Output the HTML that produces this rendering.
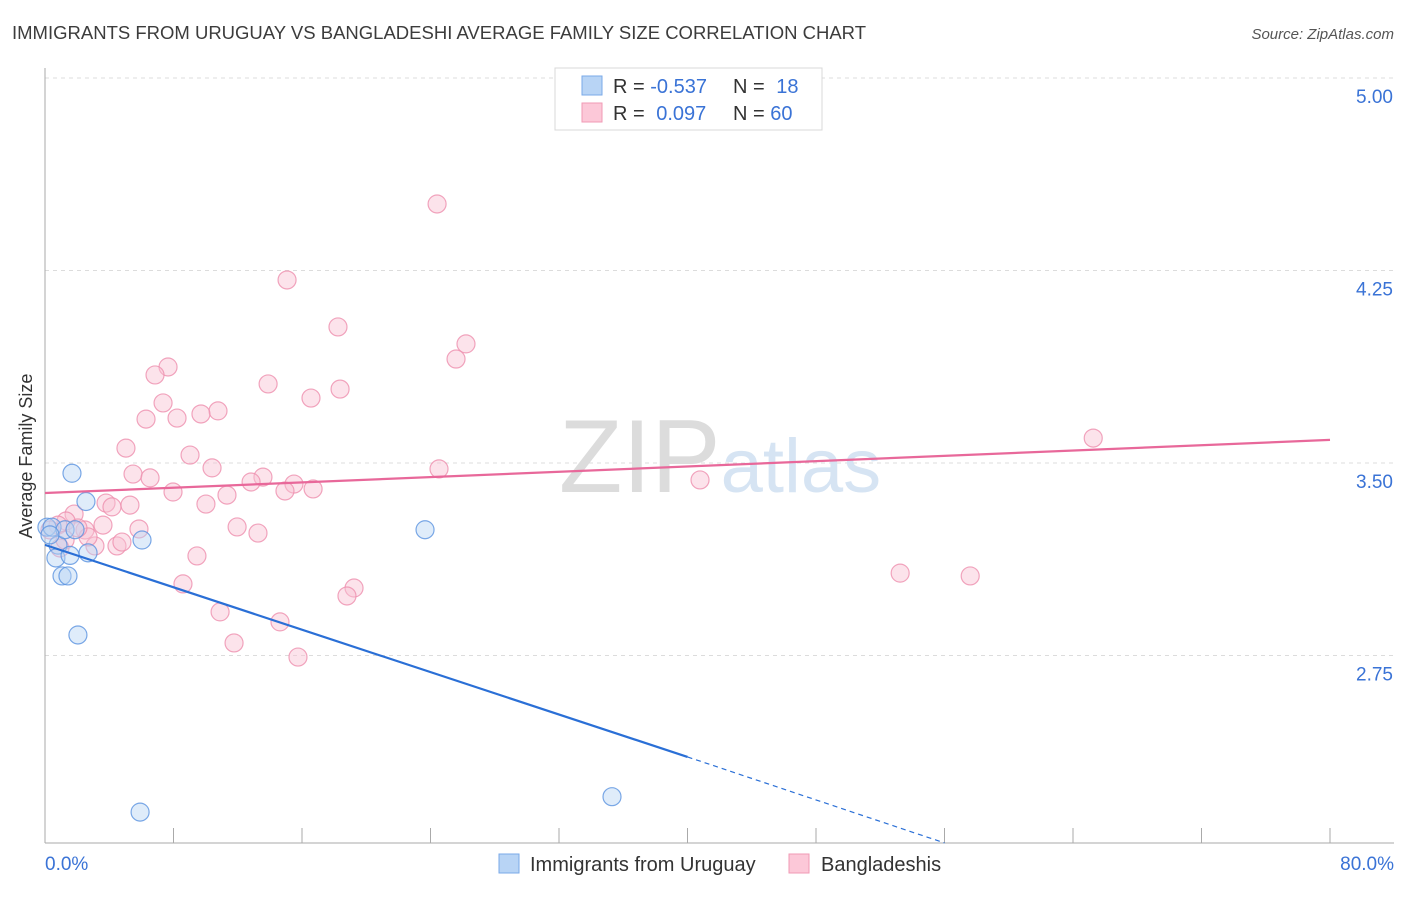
<!DOCTYPE html>
<html><head><meta charset="utf-8"><style>
body{margin:0;background:#fff;font-family:"Liberation Sans",sans-serif;}
svg text{font-family:"Liberation Sans",sans-serif;}
</style></head><body>
<svg id="chart" width="1406" height="892">
<text x="12" y="39" font-size="18" fill="#3c3c3c" textLength="854" lengthAdjust="spacingAndGlyphs">IMMIGRANTS FROM URUGUAY VS BANGLADESHI AVERAGE FAMILY SIZE CORRELATION CHART</text>
<text x="1394" y="39" font-size="15" fill="#555" font-style="italic" text-anchor="end">Source: ZipAtlas.com</text>
<text x="32" y="456" font-size="18" fill="#333" text-anchor="middle" transform="rotate(-90 32 456)">Average Family Size</text>
<g id="grid"></g>
<text x="720" y="492" font-size="104" fill="#e4e4e4" text-anchor="middle" font-family="Liberation Serif"><tspan fill="#dcdcdc">ZIP</tspan><tspan fill="#d6e4f3" font-family="Liberation Sans" font-size="76">atlas</tspan></text>
<g id="marks"></g>
<g>
<rect x="555" y="68" width="267" height="62" fill="#fff" stroke="#d8d8d8"/>
<rect x="582" y="76" width="20" height="19" fill="#b8d4f5" stroke="#7aaae8"/>
<rect x="582" y="103" width="20" height="19" fill="#fcc8d8" stroke="#f09ab5"/>
<text x="613" y="93" font-size="20" fill="#333">R = <tspan fill="#3a73d6">-0.537</tspan></text>
<text x="733" y="93" font-size="20" fill="#333">N = <tspan fill="#3a73d6" dx="6">18</tspan></text>
<text x="613" y="120" font-size="20" fill="#333">R = <tspan fill="#3a73d6" dx="6">0.097</tspan></text>
<text x="733" y="120" font-size="20" fill="#333">N = <tspan fill="#3a73d6">60</tspan></text>
</g>
<g>
<rect x="499" y="854" width="20" height="19" fill="#b8d4f5" stroke="#7aaae8"/>
<text x="530" y="871" font-size="20" fill="#333">Immigrants from Uruguay</text>
<rect x="789" y="854" width="20" height="19" fill="#fcc8d8" stroke="#f09ab5"/>
<text x="821" y="871" font-size="20" fill="#333">Bangladeshis</text>
</g>
</svg>
<script>
const yTicks=[2.75,3.5,4.25,5.0];
const yTickLabels=["2.75","3.50","4.25","5.00"];
const xTickLabels=["0.0%","80.0%"];
const blueX=[0.12,0.44,0.81,0.68,1.06,1.43,2.05,1.68,2.55,1.56,2.68,1.25,6.04,5.92,23.66,35.3,0.31,1.87];
const blueY=[3.25,3.25,3.18,3.13,3.06,3.06,2.83,3.46,3.35,3.14,3.15,3.24,3.20,2.14,3.24,2.20,3.22,3.24];
const pinkX=[24.41,15.07,18.24,26.21,25.59,7.66,6.85,13.89,18.37,16.56,7.35,10.77,9.71,6.29,8.22,5.04,9.03,10.40,5.48,6.54,24.53,40.78,65.26,13.57,12.83,15.50,16.69,7.97,14.94,11.33,10.02,3.80,4.17,1.81,1.31,3.61,5.85,11.96,13.26,2.49,3.11,4.48,4.79,2.68,0.93,9.46,8.59,19.24,18.80,10.90,14.63,11.77,15.75,53.24,57.60,2.05,0.81,0.31,5.29,1.25];
const pinkY=[4.509,4.213,4.03,3.964,3.905,3.874,3.843,3.808,3.788,3.753,3.734,3.703,3.691,3.671,3.675,3.558,3.531,3.481,3.457,3.442,3.477,3.434,3.597,3.445,3.426,3.418,3.399,3.387,3.391,3.375,3.340,3.344,3.329,3.301,3.274,3.258,3.243,3.251,3.227,3.239,3.177,3.177,3.192,3.212,3.169,3.138,3.029,3.013,2.982,2.920,2.881,2.799,2.744,3.071,3.060,3.247,3.258,3.239,3.336,3.200];
const blueTrend=[[0,3.181],[40,2.355],[56,2.02]];
const pinkTrend=[[0,3.383],[80,3.590]];
const X0=45,X1=1330;
function sx(v){return X0+(v/80)*(X1-X0);}
function sy(v){return 463-(v-3.5)*256.7;}
const NS="http://www.w3.org/2000/svg";
function mk(tag,attrs,parent){const e=document.createElementNS(NS,tag);for(const k in attrs)e.setAttribute(k,attrs[k]);parent.appendChild(e);return e;}
const grid=document.getElementById('grid'),marks=document.getElementById('marks');
yTicks.forEach((t,i)=>{
  const l=mk('line',{x1:X0,x2:1394,y1:sy(t),y2:sy(t),stroke:'#dcdcdc','stroke-dasharray':'4,4'},grid);
  
  
  const tx=mk('text',{x:1393,y:sy(t)+25,'font-size':19,fill:'#3a73d6','text-anchor':'end'},grid);
  tx.textContent=yTickLabels[i];
  
  
});
const ya=mk('line',{x1:X0,x2:X0,y1:68,y2:843,stroke:'#aaa'},grid);


const xa=mk('line',{x1:X0,x2:1394,y1:843,y2:843,stroke:'#aaa'},grid);


for(let p=0;p<=80;p+=8){
  const t=mk('line',{x1:sx(p),x2:sx(p),y1:828,y2:843,stroke:'#aaa'},grid);
  
  
}
[[0,'start',X0],[80,'end',1394]].forEach((d,i)=>{
  const t=mk('text',{x:d[2],y:870,'font-size':19,fill:'#3a73d6','text-anchor':d[1]},grid);
  t.textContent=xTickLabels[i];
  
  
});
function dots(xs,ys,fill,stroke,name){
  xs.forEach((x,i)=>{
    const c=mk('circle',{cx:sx(x),cy:sy(ys[i]),r:9,fill:fill,'fill-opacity':0.45,stroke:stroke,'stroke-opacity':0.8,'stroke-width':1.2},marks);
    
    
  });
}
dots(pinkX,pinkY,'#f9c0d2','#ee8fae','bangladeshi-point');
dots(blueX,blueY,'#b8d4f5','#5a92e0','uruguay-point');
const pl=mk('line',{x1:sx(pinkTrend[0][0]),y1:sy(pinkTrend[0][1]),x2:sx(pinkTrend[1][0]),y2:sy(pinkTrend[1][1]),stroke:'#e8689a','stroke-width':2.2},marks);


const bl=mk('line',{x1:sx(blueTrend[0][0]),y1:sy(blueTrend[0][1]),x2:sx(blueTrend[1][0]),y2:sy(blueTrend[1][1]),stroke:'#2a6fd6','stroke-width':2.2},marks);


const bd=mk('line',{x1:sx(blueTrend[1][0]),y1:sy(blueTrend[1][1]),x2:sx(blueTrend[2][0]),y2:sy(blueTrend[2][1]),stroke:'#2a6fd6','stroke-width':1.2,'stroke-dasharray':'5,4'},marks);


</script>
</body></html>
